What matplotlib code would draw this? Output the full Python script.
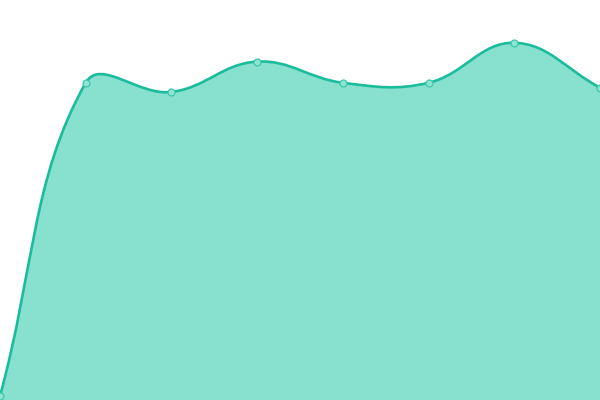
import numpy as np
import matplotlib
matplotlib.use("Agg")
import matplotlib.pyplot as plt
from matplotlib.path import Path
from matplotlib.patches import PathPatch

categories = ["A", "B", "C", "D", "E", "F", "G", "H"]
values = [1, 79.3, 77, 84.6, 79.3, 79.3, 89.3, 78.1]

line_color = "#1abc9c"
fill_color = "#88e0cf"
tension = 0.4

fig = plt.figure(figsize=(6, 4), dpi=100)
ax = fig.add_axes([0, 0, 1, 1])
ax.set_xlim(0, len(categories) - 1)
ax.set_ylim(0, 100)
ax.axis("off")

xs = np.arange(len(categories), dtype=float)
pts = ax.transData.transform(np.column_stack([xs, values]))
bbox = ax.bbox

n = len(pts)
cp_prev = np.zeros_like(pts)
cp_next = np.zeros_like(pts)
for i in range(n):
    p1 = pts[i]
    p0 = pts[i - 1] if i > 0 else p1
    p2 = pts[i + 1] if i < n - 1 else p1
    d01 = np.hypot(*(p1 - p0))
    d12 = np.hypot(*(p2 - p1))
    tot = d01 + d12
    s01 = d01 / tot if tot else 0
    s12 = d12 / tot if tot else 0
    fa = tension * s01
    fb = tension * s12
    cp_prev[i] = p1 - fa * (p2 - p0)
    cp_next[i] = p1 + fb * (p2 - p0)

def cap(p):
    return np.array([min(max(p[0], bbox.x0), bbox.x1), min(max(p[1], bbox.y0), bbox.y1)])

verts = [pts[0]]
codes = [Path.MOVETO]
for i in range(n - 1):
    verts += [cap(cp_next[i]), cap(cp_prev[i + 1]), pts[i + 1]]
    codes += [Path.CURVE4] * 3

inv = ax.transData.inverted()
verts_d = inv.transform(np.array(verts))

line_path = Path(verts_d, codes)
fill_verts = list(verts_d) + [[xs[-1], 0], [xs[0], 0], verts_d[0]]
fill_codes = codes + [Path.LINETO, Path.LINETO, Path.CLOSEPOLY]
fill_path = Path(fill_verts, fill_codes)

ax.add_patch(PathPatch(fill_path, facecolor=fill_color, edgecolor="none", zorder=1))
ax.add_patch(PathPatch(line_path, facecolor="none", edgecolor=line_color, linewidth=1.9, zorder=2))
ax.plot(xs, values, linestyle="none", marker="o", markersize=5.0,
        markerfacecolor="#8fe3d3", markeredgecolor="#3cc8ab", markeredgewidth=0.9, zorder=3)

fig.savefig("out.png", dpi=100)
